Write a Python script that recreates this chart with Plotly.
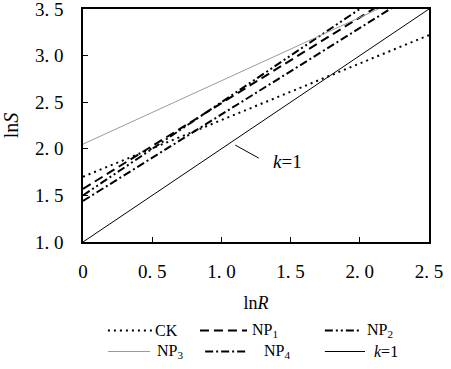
import plotly.graph_objects as go

# Data: ln R at the two ends of each fitted line, ln S values
x_ends = [0.0, 2.5]
ck = [1.70, 3.22]
np1 = [1.57, 3.87]
np2 = [1.50, 4.00]
np3 = [2.05, 3.75]
np4 = [1.44, 3.76]
k1 = [1.00, 3.50]

x_ticks = [0, 0.5, 1.0, 1.5, 2.0, 2.5]
x_tick_text = ["0", "0. 5", "1. 0", "1. 5", "2. 0", "2. 5"]
y_ticks = [1.0, 1.5, 2.0, 2.5, 3.0, 3.5]
y_tick_text = ["1. 0", "1. 5", "2. 0", "2. 5", "3. 0", "3. 5"]

FONT = "Liberation Serif"

series = [
    ("CK", ck, dict(color="black", width=2, dash="2px,4px")),
    ("NP<sub>1</sub>", np1, dict(color="black", width=2, dash="9px,5px")),
    ("NP<sub>2</sub>", np2, dict(color="black", width=2, dash="8px,3px,2px,3px,2px,3px")),
    ("NP<sub>3</sub>", np3, dict(color="#9a9a9a", width=1, dash="solid")),
    ("NP<sub>4</sub>", np4, dict(color="black", width=2, dash="8px,3px,2px,3px")),
    ("<i>k</i>=1", k1, dict(color="black", width=1, dash="solid")),
]

fig = go.Figure()
for name, ys, line in series:
    fig.add_trace(go.Scatter(x=x_ends, y=ys, mode="lines", name=name, line=line,
                             showlegend=False))

# k=1 label with leader
fig.add_shape(type="line", x0=1.10, y0=2.04, x1=1.27, y1=1.90, xref="x", yref="y",
              line=dict(color="black", width=1))
fig.add_annotation(x=1.48, y=1.86, xref="x", yref="y", text="<i>k</i>=1", showarrow=False,
                   font=dict(family=FONT, size=19, color="black"))

# Legend drawn as a 3x2 key below the plot (paper coordinates)
legend_layout = [
    # (series index, sample x0, sample x1, text x, row y)
    (0, 0.072, 0.199, 0.202, -0.380),
    (1, 0.338, 0.474, 0.483, -0.380),
    (2, 0.699, 0.806, 0.815, -0.380),
    (3, 0.072, 0.194, 0.208, -0.470),
    (4, 0.353, 0.474, 0.517, -0.470),
    (5, 0.699, 0.815, 0.835, -0.470),
]
for idx, sx0, sx1, tx, ry in legend_layout:
    name, _, line = series[idx]
    fig.add_shape(type="line", xref="paper", yref="paper", x0=sx0, x1=sx1, y0=ry, y1=ry,
                  line=dict(color=line["color"], width=line["width"] if line["width"] > 1 else 1.2,
                            dash=line["dash"]))
    fig.add_annotation(xref="paper", yref="paper", x=tx, y=ry, text=name, showarrow=False,
                       xanchor="left", yanchor="middle",
                       font=dict(family=FONT, size=16, color="black"))

fig.update_layout(
    width=451, height=369,
    margin=dict(l=83, r=22, t=9, b=127),
    paper_bgcolor="white", plot_bgcolor="white",
    showlegend=False,
    font=dict(family=FONT, size=17, color="black"),
)
fig.update_xaxes(range=[0, 2.5], tickvals=x_ticks, ticktext=x_tick_text,
                 ticks="inside", ticklen=5, tickwidth=1, tickcolor="black",
                 showline=True, linecolor="black", linewidth=1.5, mirror=True,
                 showgrid=False, zeroline=False, ticklabelstandoff=11, automargin=False,
                 ticklabeloverflow="allow",
                 tickfont=dict(family=FONT, size=19),
                 title=dict(text="ln<i>R</i>", font=dict(family=FONT, size=18), standoff=16))
fig.update_yaxes(range=[1, 3.5], tickvals=y_ticks, ticktext=y_tick_text,
                 ticks="inside", ticklen=5, tickwidth=1, tickcolor="black",
                 showline=True, linecolor="black", linewidth=1.5, mirror=True,
                 showgrid=False, zeroline=False, ticklabelstandoff=14, automargin=False,
                 ticklabeloverflow="allow",
                 tickfont=dict(family=FONT, size=19),
                 title=dict(text="ln<i>S</i>", font=dict(family=FONT, size=20), standoff=16))

# remove the default 8px page margin so the figure fills the window exactly
fig.write_html("out.html", config={"displayModeBar": False},
               post_script="document.body.style.margin='0';")
